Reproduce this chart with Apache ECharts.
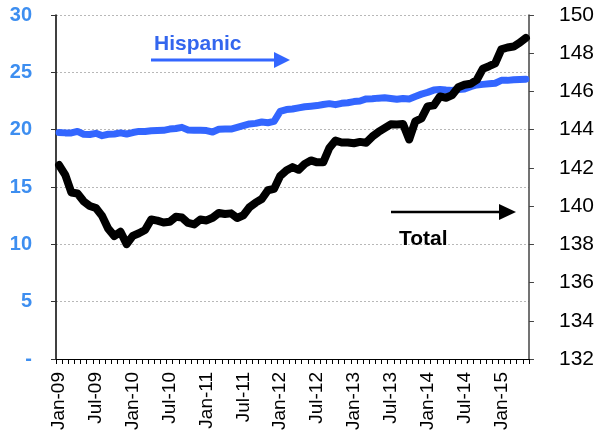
<!DOCTYPE html>
<html>
<head>
<meta charset="utf-8">
<script src="https://cdn.jsdelivr.net/npm/echarts@6/dist/echarts.min.js"></script>
<style>
html,body{margin:0;padding:0;background:#fff;}
#chart{width:597px;height:439px;}
</style>
</head>
<body>
<div id="chart"></div>
<script>
// Monthly categories Jan-09 .. May-15
const months = ['Jan','Feb','Mar','Apr','May','Jun','Jul','Aug','Sep','Oct','Nov','Dec'];
const categories = [];
for (let y = 9; y <= 15; y++) {
  for (let m = 0; m < 12; m++) {
    if (y === 15 && m > 4) break;
    categories.push(months[m] + '-' + (y < 10 ? '0' + y : y));
  }
}

// Hispanic employment (millions, left axis)
const hispanic = [
  19.76, 19.72, 19.72, 19.85, 19.60, 19.58, 19.68, 19.48, 19.60, 19.62, 19.72, 19.62,
  19.75, 19.85, 19.84, 19.90, 19.92, 19.94, 20.05, 20.10, 20.20, 19.98, 19.94, 19.94,
  19.92, 19.80, 20.04, 20.06, 20.05, 20.20, 20.35, 20.50, 20.55, 20.67, 20.60, 20.72,
  21.60, 21.75, 21.80, 21.90, 22.00, 22.05, 22.10, 22.20, 22.27, 22.18, 22.30, 22.35,
  22.45, 22.50, 22.68, 22.70, 22.75, 22.78, 22.72, 22.65, 22.72, 22.68, 22.90, 23.10,
  23.25, 23.45, 23.50, 23.45, 23.42, 23.50, 23.55, 23.75, 23.90, 23.95, 24.00, 24.05,
  24.30, 24.30, 24.35, 24.38, 24.40
];

// Total employment (millions, right axis)
const total = [
  142.15, 141.64, 140.71, 140.66, 140.25, 140.01, 139.90, 139.49, 138.82, 138.43, 138.66, 138.01,
  138.44, 138.58, 138.75, 139.30, 139.24, 139.14, 139.18, 139.44, 139.40, 139.12, 139.04, 139.30,
  139.25, 139.39, 139.64, 139.59, 139.62, 139.38, 139.52, 139.94, 140.18, 140.37, 140.83, 140.90,
  141.58, 141.86, 142.04, 141.90, 142.21, 142.39, 142.29, 142.29, 143.04, 143.43, 143.33, 143.33,
  143.29, 143.36, 143.32, 143.64, 143.88, 144.08, 144.28, 144.27, 144.30, 143.49, 144.44, 144.59,
  145.22, 145.27, 145.74, 145.67, 145.81, 146.22, 146.35, 146.40, 146.60, 147.19, 147.32, 147.47,
  148.20, 148.30, 148.35, 148.55, 148.80
];

const leftTicks = { min: 0, max: 30, interval: 5 };
const rightTicks = { min: 132, max: 150, interval: 2 };

const FONT = '"Liberation Sans", Arial, sans-serif';
const chart = echarts.init(document.getElementById('chart'), null, { renderer: 'canvas' });

chart.setOption({
  animation: false,
  backgroundColor: '#ffffff',
  grid: { left: 56, right: 62, top: 15, bottom: 80, containLabel: false },
  xAxis: {
    type: 'category',
    data: categories,
    boundaryGap: true,
    axisLine: { show: true, lineStyle: { color: '#000', width: 1 } },
    axisTick: { show: true, interval: 0, length: 5, inside: false, lineStyle: { color: '#000', width: 1 } },
    axisLabel: {
      interval: 5, rotate: 90, margin: 13,
      fontFamily: FONT, fontSize: 19, color: '#000'
    },
    splitLine: { show: false }
  },
  yAxis: [
    {
      type: 'value',
      min: leftTicks.min, max: leftTicks.max, interval: leftTicks.interval,
      position: 'left',
      axisLine: { show: true, lineStyle: { color: '#000', width: 1.5 } },
      axisTick: { show: true, length: 5, lineStyle: { color: '#333' } },
      axisLabel: {
        margin: 24, fontFamily: FONT, fontSize: 20, fontWeight: 'bold', color: '#3D8EF0',
        formatter: v => (v === 0 ? '-' : String(v))
      },
      splitLine: { show: true, lineStyle: { color: '#b8b8b8', type: [2, 2], width: 1 } }
    },
    {
      type: 'value',
      min: rightTicks.min, max: rightTicks.max, interval: rightTicks.interval,
      position: 'right',
      axisLine: { show: true, lineStyle: { color: '#444', width: 1.5 } },
      axisTick: { show: true, length: 5, lineStyle: { color: '#444' } },
      axisLabel: { margin: 30, fontFamily: FONT, fontSize: 21, color: '#000' },
      splitLine: { show: false }
    }
  ],
  series: [
    {
      name: 'Hispanic', type: 'line', yAxisIndex: 0, data: hispanic,
      showSymbol: false, smooth: false,
      lineStyle: { color: '#3366FF', width: 7, join: 'round', cap: 'round' },
      z: 2
    },
    {
      name: 'Total', type: 'line', yAxisIndex: 1, data: total,
      showSymbol: false, smooth: false,
      lineStyle: { color: '#000000', width: 8, join: 'round', cap: 'round' },
      z: 3
    }
  ],
  graphic: [
    {
      type: 'text', x: 154, y: 44, z: 10,
      style: { text: 'Hispanic', fill: '#3366EE', font: 'bold 21px ' + FONT, textVerticalAlign: 'middle', verticalAlign: 'middle' }
    },
    {
      type: 'line', z: 10,
      shape: { x1: 151, y1: 60, x2: 276, y2: 60 },
      style: { stroke: '#3366FF', lineWidth: 3 }
    },
    {
      type: 'polygon', z: 10,
      shape: { points: [[274, 52], [290, 60], [274, 68]] },
      style: { fill: '#3366FF' }
    },
    {
      type: 'text', x: 399, y: 239, z: 10,
      style: { text: 'Total', fill: '#000', font: 'bold 21px ' + FONT, textVerticalAlign: 'middle', verticalAlign: 'middle' }
    },
    {
      type: 'line', z: 10,
      shape: { x1: 391, y1: 212, x2: 501, y2: 212 },
      style: { stroke: '#000', lineWidth: 2.5 }
    },
    {
      type: 'polygon', z: 10,
      shape: { points: [[499, 204], [516, 212], [499, 220]] },
      style: { fill: '#000' }
    }
  ]
});
</script>
</body>
</html>
